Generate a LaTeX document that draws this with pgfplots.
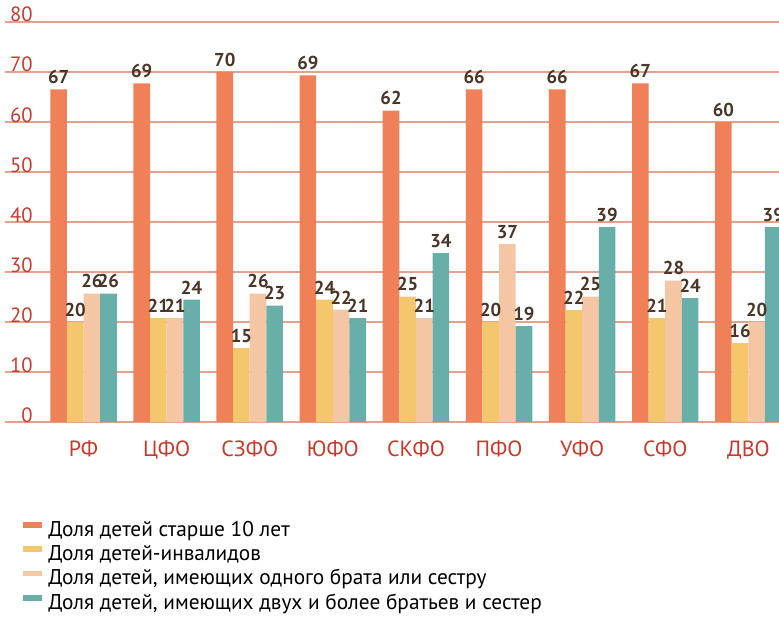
\documentclass[border=0pt]{standalone}
\usepackage{fontspec}
\setmainfont{PT Sans}
\usepackage{pgfplots}
\pgfplotsset{compat=1.18}
\definecolor{cOr}{HTML}{EF8058}
\definecolor{cYe}{HTML}{F4C76C}
\definecolor{cPe}{HTML}{F4C6A4}
\definecolor{cTe}{HTML}{68AFAA}
\definecolor{cVal}{HTML}{4A3526}
\definecolor{cRed}{HTML}{C9392C}
\definecolor{cGrid}{HTML}{E2A28E}
\begin{document}
\begin{tikzpicture}
\useasboundingbox (-3.75pt,316.5pt) rectangle (580.5pt,-155.25pt);
\begin{axis}[
    at={(0pt,0pt)}, anchor=south west,
    scale only axis,
    width=580.5pt, height=300pt,
    xmin=-0.945, xmax=8.369,
    ymin=0, ymax=80,
    ytick={0,10,...,80},
    xtick={0,...,8},
    xticklabels={РФ,ЦФО,СЗФО,ЮФО,СКФО,ПФО,УФО,СФО,ДВО},
    ybar=0pt, bar width=0.2,
    axis line style={draw=none},
    major tick length=0pt,
    ymajorgrids,
    grid style={draw=cGrid, line width=1.5pt},
    /pgf/number format/assume math mode=true,
    yticklabel style={anchor=base east, inner sep=0pt, xshift=21pt,
        text=cRed, font=\fontsize{15.5}{18}\selectfont},
    xticklabel style={anchor=base, inner sep=0pt, yshift=-25.5pt,
        text=cRed, font=\fontsize{16.5}{19}\selectfont},
    point meta=explicit symbolic,
    nodes near coords,
    every node near coord/.append style={anchor=south, inner sep=0pt,
        yshift=3.75pt, text=cVal, font=\fontsize{14}{16}\selectfont\bfseries},
    legend image code/.code={\fill[#1] (0pt,2.0pt) rectangle (14.25pt,6.4pt);},
    legend cell align=left,
    legend style={at={(0.02326,-0.245)}, anchor=north west, draw=none, fill=none,
        inner sep=0pt, row sep=2.7pt,
        nodes={inner sep=0pt, text height=12pt, text depth=3.5pt},
        /tikz/every odd column/.style={column sep=4.5pt},
        font=\fontsize{16}{19}\selectfont},
]
\addplot[fill=cOr, draw=none] coordinates {
    (0,66.5) [67] (1,67.7) [69] (2,70.0) [70] (3,69.3) [69] (4,62.3) [62]
    (5,66.5) [66] (6,66.5) [66] (7,67.7) [67] (8,60.0) [60]};
\addplot[fill=cYe, draw=none] coordinates {
    (0,20.0) [20] (1,20.8) [21] (2,14.8) [15] (3,24.5) [24] (4,25.1) [25]
    (5,20.0) [20] (6,22.4) [22] (7,20.8) [21] (8,15.8) [16]};
\addplot[fill=cPe, draw=none] coordinates {
    (0,25.7) [26] (1,20.8) [21] (2,25.7) [26] (3,22.5) [22] (4,20.8) [21]
    (5,35.6) [37] (6,25.1) [25] (7,28.3) [28] (8,20.0) [20]};
\addplot[fill=cTe, draw=none] coordinates {
    (0,25.7) [26] (1,24.5) [24] (2,23.3) [23] (3,20.8) [21] (4,33.8) [34]
    (5,19.2) [19] (6,39.0) [39] (7,24.8) [24] (8,39.0) [39]};
\legend{Доля детей старше 10 лет, Доля детей-инвалидов,
    {Доля детей, имеющих одного брата или сестру},
    {Доля детей, имеющих двух и более братьев и сестер}}
\end{axis}
\end{tikzpicture}
\end{document}
